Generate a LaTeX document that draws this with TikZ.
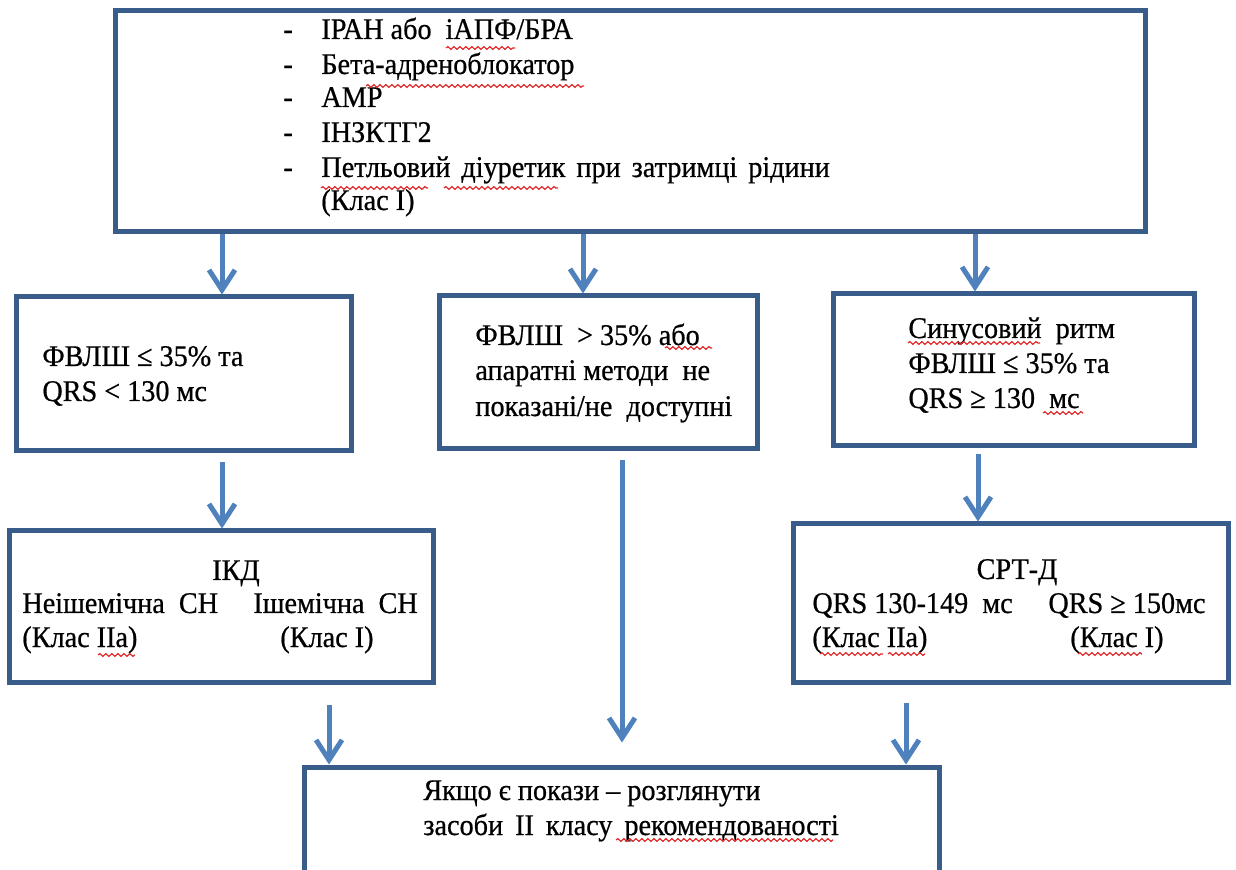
\documentclass[tikz,border=0pt]{standalone}
\usepackage{fontspec}
\setmainfont{Liberation Serif}[FakeStretch=0.94, FakeBold=0.6]
\usetikzlibrary{arrows.meta,decorations.pathmorphing}
\definecolor{boxblue}{RGB}{56,93,138}
\definecolor{arrowblue}{RGB}{79,129,189}
\definecolor{spellred}{RGB}{225,40,40}
\newcommand{\wsp}[1]{\hspace{#1}}
\begin{document}
\begin{tikzpicture}[x=0.5pt,y=-0.5pt,
  box/.style={draw=boxblue, line width=2.5pt, rectangle, inner sep=0pt},
  arr/.style={draw=arrowblue, line width=2.5pt,
    -{Straight Barb[length=10pt,width=13pt]}},
  txt/.style={anchor=base west, inner sep=0pt, font=\fontsize{15pt}{17pt}\selectfont},
  ctxt/.style={anchor=base, inner sep=0pt, font=\fontsize{15pt}{17pt}\selectfont},
  spell/.style={draw=spellred, line width=0.6pt, decorate,
    decoration={snake, amplitude=0.7pt, segment length=3pt}}]
\clip (0,0) rectangle (1236,870);
\fill[white] (0,0) rectangle (1236,870);

% boxes
\node[box, minimum width=515pt, minimum height=110.5pt] (top) at (630,121.5) {};
\node[box, minimum width=167.5pt, minimum height=77pt] (A) at (183.5,374) {};
\node[box, minimum width=159pt, minimum height=76.5pt] (B) at (598,372.5) {};
\node[box, minimum width=180.5pt, minimum height=76pt] (C) at (1013.5,370) {};
\node[box, minimum width=212pt, minimum height=75.5pt] (D) at (221,606.5) {};
\node[box, minimum width=217.5pt, minimum height=79pt] (E) at (1010.5,603) {};
\node[box, minimum width=317.5pt, minimum height=61.5pt] (F) at (621.5,828.5) {};

% arrow columns
\coordinate (xa) at (222,0);
\coordinate (xb) at (583,0);
\coordinate (xc) at (975,0);
\coordinate (xd) at (978,0);
\coordinate (xe) at (622,0);
\coordinate (xf) at (329,0);
\coordinate (xg) at (906,0);

\draw[arr] (top.south -| xa) -- (A.north -| xa);
\draw[arr] (top.south -| xb) -- (B.north -| xb);
\draw[arr] (top.south -| xc) -- (C.north -| xc);
\draw[arr, shorten <=4.5pt] (A.south -| xa) -- (D.north -| xa);
\draw[arr, shorten <=3pt] (C.south -| xd) -- (E.north -| xd);
\draw[arr, shorten <=4.5pt, shorten >=11pt] (B.south -| xe) -- (F.north -| xe);
\draw[arr, shorten <=10pt] (D.south -| xf) -- (F.north -| xf);
\draw[arr, shorten <=9pt] (E.south -| xg) -- (F.north -| xg);

% top list
\node[txt] (t1) at (283,39) {\makebox[19pt][l]{-}ІРАН або\wsp{7pt}іАПФ/БРА};
\node[txt] (t2) at (283,74) {\makebox[19pt][l]{-}Бета-адреноблокатор};
\node[txt] (t3) at (283,107) {\makebox[19pt][l]{-}АМР};
\node[txt] (t4) at (283,142) {\makebox[19pt][l]{-}ІНЗКТГ2};
\node[txt] (t5) at (283,177) {\makebox[19pt][l]{-}Петльовий\wsp{5.5pt}діуретик\wsp{5.5pt}при\wsp{5.5pt}затримці\wsp{5.5pt}рідини};
\node[txt] (t6) at (321,210) {(Клас І)};

% box A
\node[txt] (a1) at (42,366) {ФВЛШ ≤ 35\% та};
\node[txt] (a2) at (42,401) {QRS < 130 мс};

% box B
\node[txt] (b1) at (475,345) {ФВЛШ \ > 35\% або};
\node[txt] (b2) at (475,380) {апаратні методи \ не};
\node[txt] (b3) at (475,416) {показані/не \ доступні};

% box C
\node[txt] (c1) at (908,338) {Синусовий \ ритм};
\node[txt] (c2) at (908,373) {ФВЛШ ≤ 35\% та};
\node[txt] (c3) at (908,408) {QRS ≥ 130 \ мс};

% box D
\node[ctxt] (d0) at (236,580) {ІКД};
\node[txt] (d1) at (22,613) {Неішемічна \ СН};
\node[txt] (d2) at (253,613) {Ішемічна \ СН};
\node[txt] (d3) at (22,647) {(Клас ІІа)};
\node[txt] (d4) at (280,647) {(Клас І)};

% box E
\node[ctxt] (e0) at (1017,579) {СРТ-Д};
\node[txt] (e1) at (812,613) {QRS 130-149 \ мс};
\node[txt] (e2) at (1048,613) {QRS ≥ 150мс};
\node[txt] (e3) at (812,647) {(Клас ІІа)};
\node[txt] (e4) at (1070,647) {(Клас І)};

% box F
\node[txt] (f1) at (423,800) {Якщо є покази – розглянути};
\node[txt] (f2) at (423,835) {засоби\wsp{6pt}ІІ\wsp{6pt}класу\wsp{6pt}рекомендованості};

% spelling marks
\draw[spell] (446,48) -- (515,48);
\draw[spell] (366,86) -- (584,86);
\draw[spell] (321,188) -- (428,188);
\draw[spell] (444,188) -- (558,188);
\draw[spell] (665,348) -- (712,348);
\draw[spell] (908,343) -- (1040,343);
\draw[spell] (1043,413) -- (1083,413);
\draw[spell] (98,655) -- (135,655);
\draw[spell] (820,654) -- (883,654);
\draw[spell] (888,654) -- (925,654);
\draw[spell] (1078,654) -- (1142,654);
\draw[spell] (616,840) -- (833,840);
\end{tikzpicture}
\end{document}
